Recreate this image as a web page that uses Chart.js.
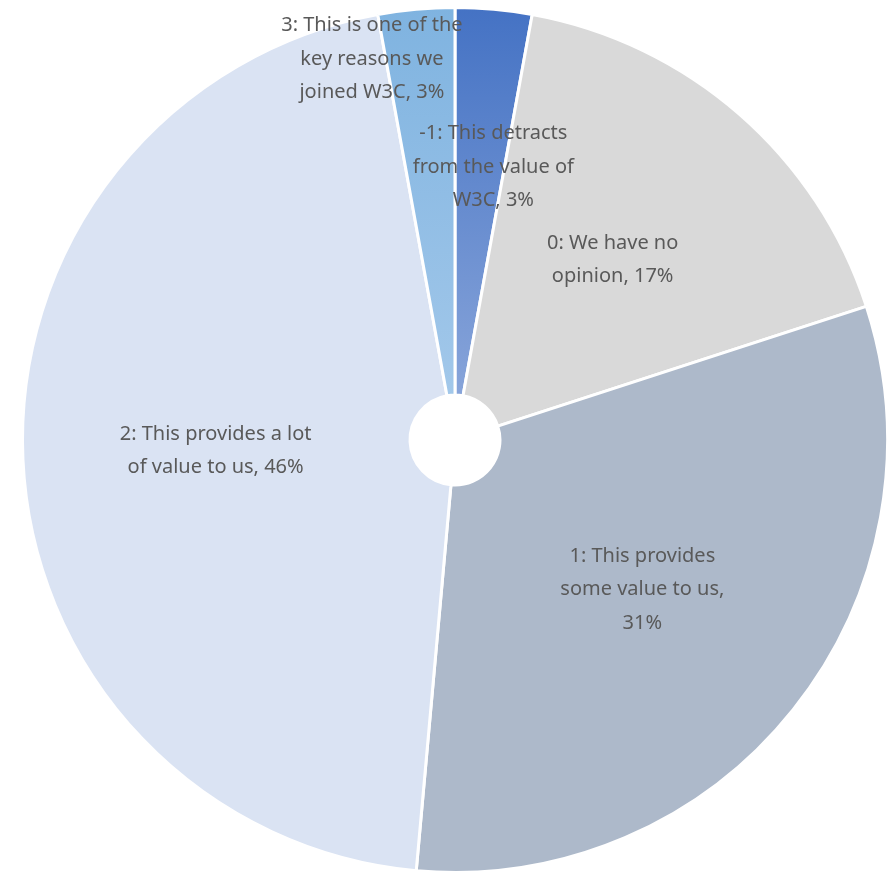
<!DOCTYPE html>
<html>
<head>
<meta charset="utf-8">
<script src="https://cdn.jsdelivr.net/npm/chart.js@4.4.1/dist/chart.umd.min.js"></script>
<style>
html,body{margin:0;padding:0;background:#fff;width:896px;height:872px;overflow:hidden;}
canvas{display:block;}
</style>
</head>
<body>
<canvas id="c" width="896" height="880"></canvas>
<script>
const categories = [
  '-1: This detracts from the value of W3C',
  '0: We have no opinion',
  '1: This provides some value to us',
  '2: This provides a lot of value to us',
  '3: This is one of the key reasons we joined W3C'
];
const responses = [1, 6, 11, 16, 1];

// label layout options (style, not data)
const labelWrap = [165, 150, 180, 200, 190];
const labelPlace = [
  {angle: -82.0, frac: 0.637},
  null,
  null,
  null,
  {angle: -102.3, frac: 0.902}
];

function wrapText(ctx, text, maxW) {
  const words = text.split(' ');
  const lines = [];
  let cur = '';
  for (const w of words) {
    const t = cur ? cur + ' ' + w : w;
    if (ctx.measureText(t).width > maxW && cur) { lines.push(cur); cur = w; }
    else cur = t;
  }
  if (cur) lines.push(cur);
  return lines;
}

function vGrad(ctx, area, c1, c2) {
  const cy = (area.top + area.bottom) / 2;
  const g = ctx.createLinearGradient(0, area.top, 0, cy);
  g.addColorStop(0, c1);
  g.addColorStop(1, c2);
  return g;
}

const labelPlugin = {
  id: 'sliceLabels',
  afterDatasetsDraw(chart) {
    const ctx = chart.ctx;
    const meta = chart.getDatasetMeta(0);
    const data = chart.data.datasets[0].data;
    const total = data.reduce((a, b) => a + b, 0);
    ctx.save();
    ctx.font = '20px "Noto Sans", sans-serif';
    ctx.fillStyle = '#595959';
    ctx.textAlign = 'center';
    ctx.textBaseline = 'middle';
    const lh = 33.5;
    meta.data.forEach((arc, i) => {
      const {x, y, startAngle, endAngle, outerRadius} = arc.getProps(['x','y','startAngle','endAngle','outerRadius'], true);
      let ang = (startAngle + endAngle) / 2;
      let frac = 0.554;
      if (labelPlace[i]) { ang = labelPlace[i].angle * Math.PI / 180; frac = labelPlace[i].frac; }
      const px = x + Math.cos(ang) * outerRadius * frac;
      const py = y + Math.sin(ang) * outerRadius * frac;
      const pct = Math.round(data[i] / total * 100) + '%';
      const lines = wrapText(ctx, chart.data.labels[i] + ', ' + pct, labelWrap[i]);
      const y0 = py - (lines.length - 1) * lh / 2;
      lines.forEach((ln, k) => ctx.fillText(ln, px, y0 + k * lh));
    });
    ctx.restore();
  }
};

new Chart(document.getElementById('c'), {
  type: 'doughnut',
  data: {
    labels: categories,
    datasets: [{
      data: responses,
      backgroundColor: (c) => {
        const area = c.chart.chartArea;
        const i = c.dataIndex;
        if (i === 0) return area ? vGrad(c.chart.ctx, area, '#4472C4', '#8FAADC') : '#6A8FD0';
        if (i === 1) return '#D9D9D9';
        if (i === 2) return '#ADB9CA';
        if (i === 3) return '#DAE3F3';
        return area ? vGrad(c.chart.ctx, area, '#7FB3E0', '#A6CAEB') : '#9DC3E6';
      },
      borderColor: '#FFFFFF',
      borderWidth: 3,
      borderAlign: 'center'
    }]
  },
  options: {
    responsive: false,
    animation: false,
    cutout: '10.4%',
    layout: {padding: {left: 21, right: 7, top: 6, bottom: 6}},
    plugins: {
      legend: {display: false},
      tooltip: {enabled: false}
    }
  },
  plugins: [labelPlugin]
});
</script>
</body>
</html>
